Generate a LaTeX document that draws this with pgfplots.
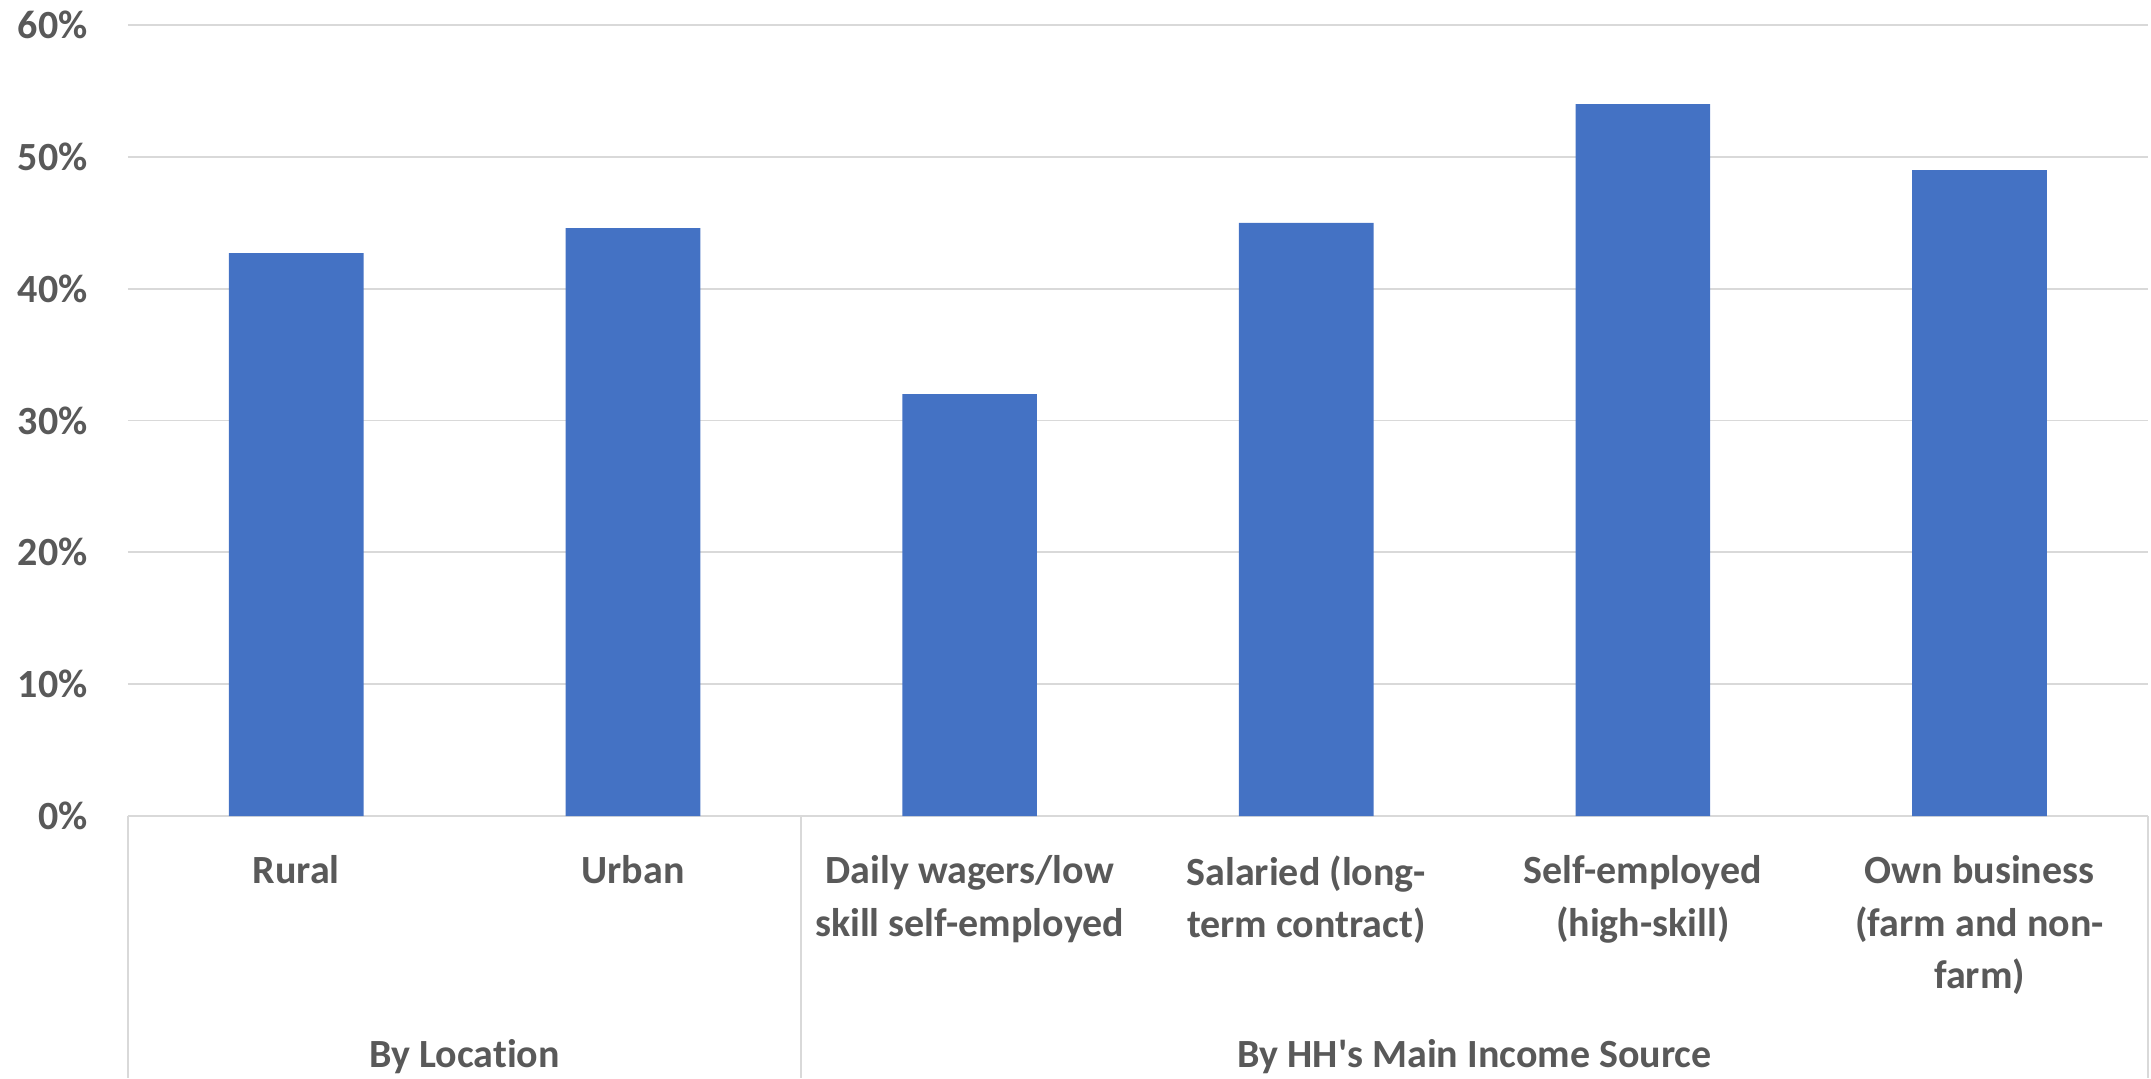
\documentclass[border=0pt]{standalone}
\usepackage{pgfplots}
\pgfplotsset{compat=1.18}
\usepackage{fontspec}
\setmainfont{Carlito}[Ligatures={NoCommon}]
\definecolor{barblue}{HTML}{4472C4}
\definecolor{txt}{HTML}{595959}
\definecolor{gridc}{HTML}{D9D9D9}
\begin{document}
\begin{tikzpicture}
\begin{axis}[
  at={(0,0)}, anchor=south west,
  scale only axis, width=1010pt, height=395.5pt,
  xmin=-0.5, xmax=5.5, ymin=0, ymax=60,
  ybar, bar width=0.4,
  axis x line*=bottom, axis y line*=left,
  y axis line style={draw=none},
  x axis line style={draw=gridc, line width=0.9pt},
  major tick length=0pt,
  ymajorgrids, grid style={draw=gridc, line width=0.9pt},
  ytick={0,10,...,60},
  yticklabels={0\%,10\%,20\%,30\%,40\%,50\%,60\%},
  xtick={0,...,5},
  xticklabels={Rural, Urban, Daily wagers/low\\skill self-employed, Salaried (long-\\term contract), Self-employed\\(high-skill), Own business\\(farm and non-\\farm)},
  ticklabel style={font=\fontsize{20}{26.3}\selectfont\bfseries, text=txt},
  xticklabel style={align=center, anchor=north, inner sep=0pt, yshift=-19.5pt},
  yticklabel style={anchor=east, inner sep=0pt, xshift=-20pt},
  clip=false,
]
\addplot[ybar, fill=barblue, draw=none] coordinates {(0,42.7) (1,44.6) (2,32.0) (3,45.0) (4,54.0) (5,49.0)};
\draw[draw=gridc, line width=0.9pt] (axis cs:-0.5,0) -- ++(0pt,-131pt);
\draw[draw=gridc, line width=0.9pt] (axis cs:1.5,0) -- ++(0pt,-131pt);
\draw[draw=gridc, line width=0.9pt] (axis cs:5.5,0) -- ++(0pt,-131pt);
\node[anchor=base, font=\fontsize{20}{26.3}\selectfont\bfseries, text=txt] at ([yshift=-125.5pt]axis cs:0.5,0) {By Location};
\node[anchor=base, font=\fontsize{20}{26.3}\selectfont\bfseries, text=txt] at ([yshift=-125.5pt]axis cs:3.5,0) {By HH\textquotesingle s Main Income Source};
\end{axis}
\pgfresetboundingbox
\path[use as bounding box] (-64pt,-131pt) rectangle (1011.5pt,408pt);
\end{tikzpicture}
\end{document}
